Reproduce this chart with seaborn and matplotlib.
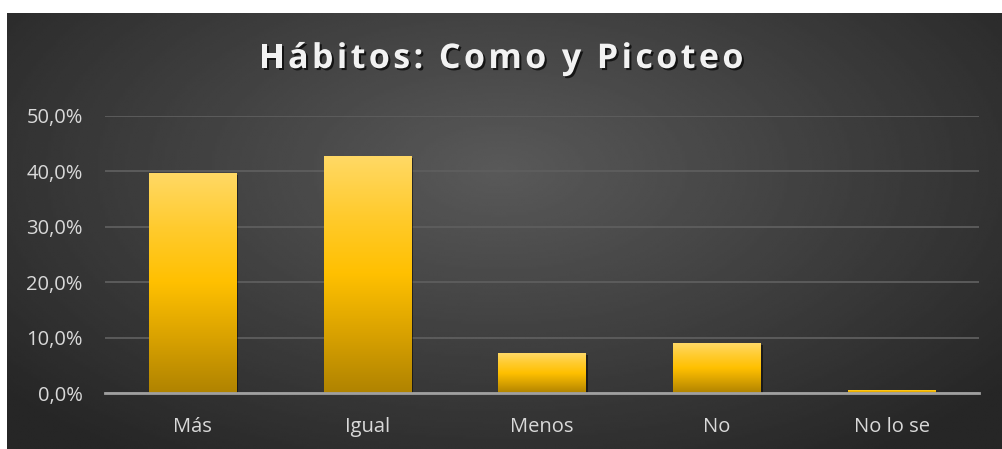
import matplotlib
matplotlib.use("Agg")
import matplotlib.pyplot as plt
import matplotlib.patheffects as pe
from matplotlib.colors import LinearSegmentedColormap
from matplotlib.font_manager import FontProperties, findfont
from matplotlib.ft2font import FT2Font
import seaborn as sns
import numpy as np
import pandas as pd

categories = ["Más", "Igual", "Menos", "No", "No lo se"]
values = [0.398, 0.428, 0.072, 0.090, 0.006]
yticks = [0.0, 0.1, 0.2, 0.3, 0.4, 0.5]
title = "Hábitos: Como y Picoteo"

W, H = 1002, 449
FONT = ["Open Sans", "DejaVu Sans"]

sns.set_theme(style="dark")
plt.rcParams["font.family"] = FONT

fig = plt.figure(figsize=(W / 100, H / 100), dpi=100)
fig.patch.set_facecolor("white")

# dark radial background of the chart area
bg = fig.add_axes([0, 0, 1, 1])
bg.set_xlim(0, W); bg.set_ylim(H, 0); bg.axis("off")
gx, gy = np.meshgrid(np.linspace(7, W, 400), np.linspace(13, H, 200))
r = np.sqrt(((gx - 500) / 620) ** 2 + ((gy - 170) / 330) ** 2)
shade = np.clip(0.35 - 0.19 * r, 0.15, 0.35)
bg.imshow(shade, cmap="gray", vmin=0, vmax=1, extent=[7, W, H, 13],
          aspect="auto", interpolation="bilinear")

df = pd.DataFrame({"cat": categories, "val": values})
ax = fig.add_axes([105 / W, 1 - 393 / H, 874 / W, 277 / H])
ax.patch.set_alpha(0)
sns.barplot(data=df, x="cat", y="val", ax=ax, width=0.5, color="#FFC000",
            saturation=1, linewidth=0, edgecolor="none")

bar_cmap = LinearSegmentedColormap.from_list(
    "gold", ["#B08300", "#D9A200", "#FFC000", "#FFCB2E", "#FFD966"])
grad = np.linspace(0, 1, 256).reshape(-1, 1)
for p in ax.patches:
    x0, w, h = p.get_x(), p.get_width(), p.get_height()
    p.set_path_effects([pe.SimplePatchShadow(offset=(1.5, -1.5), alpha=0.5,
                                             shadow_rgbFace="black"), pe.Normal()])
    im = ax.imshow(grad, cmap=bar_cmap, origin="lower", aspect="auto",
                   extent=[x0, x0 + w, 0, h], zorder=p.get_zorder() + 0.1)
    im.set_clip_path(p)

ax.set_xlim(-0.5, len(categories) - 0.5)
ax.set_ylim(0, 0.5)
ax.set_yticks(yticks)
ax.set_yticklabels([f"{v * 100:.1f}%".replace(".", ",") for v in yticks])
ax.yaxis.grid(True, color="#5e5e5e", linewidth=1.3)
ax.xaxis.grid(False)
ax.set_axisbelow(True)
for s in ["top", "right", "left"]:
    ax.spines[s].set_visible(False)
ax.spines["bottom"].set_color("#a0a0a0")
ax.spines["bottom"].set_linewidth(2)
ax.tick_params(axis="y", length=0, pad=16, labelsize=14.5, labelcolor="#d9d9d9")
ax.tick_params(axis="x", length=0, pad=17, labelsize=14.5, labelcolor="#d9d9d9")
ax.set_xlabel(""); ax.set_ylabel("")

# title with letter spacing (Excel style)
tsize, tspace = 24.5, 3.4
prop = FontProperties(family="Open Sans", weight="bold", size=tsize)
ft = FT2Font(findfont(prop))
ft.set_size(tsize, 100)
adv = []
for ch in title:
    g = ft.load_char(ord(ch))
    adv.append(g.linearHoriAdvance / 65536)
total = sum(adv) + tspace * (len(title) - 1)
x = W / 2 - total / 2
for ch, a in zip(title, adv):
    fig.text(x / W, 1 - 59 / H, ch, ha="left", va="center", fontproperties=prop,
             color="#f2f2f2",
             path_effects=[pe.withSimplePatchShadow(offset=(1.5, -1.5), alpha=0.7,
                                                    shadow_rgbFace="black")])
    x += a + tspace

fig.savefig("out.png", dpi=100, facecolor=fig.get_facecolor())
